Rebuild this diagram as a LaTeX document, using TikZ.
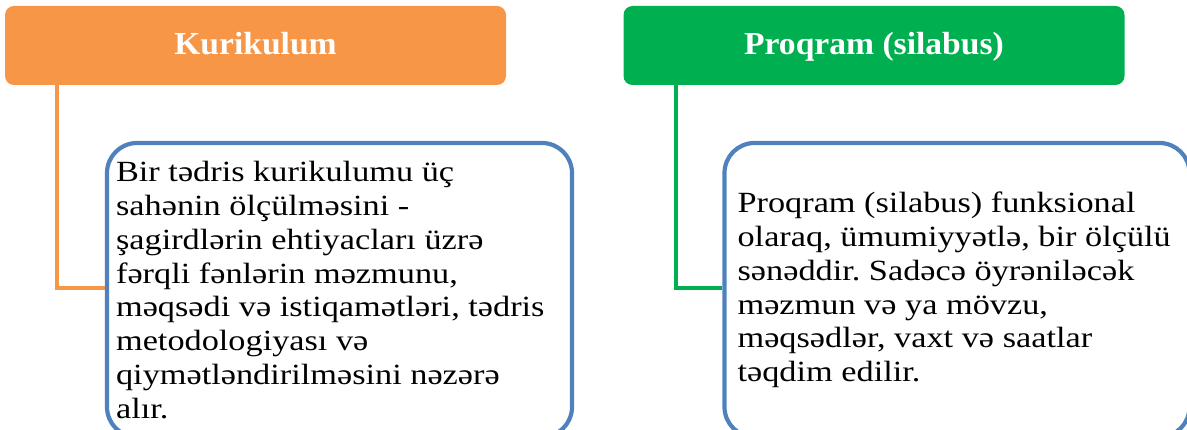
\documentclass[tikz,border=0pt]{standalone}
\usepackage{fontspec}
\setmainfont{Liberation Serif}
\newfontfamily\bodyfont[FakeStretch=1.17]{Liberation Serif}
\newfontfamily\headfont[FakeStretch=1.05]{Liberation Serif}
\definecolor{korange}{HTML}{F79646}
\definecolor{kgreen}{HTML}{00B050}
\definecolor{kblue}{HTML}{4F81BD}
\frenchspacing
\tikzset{
  headbox/.style={rounded corners=9pt, inner sep=0pt, minimum width=501pt, minimum height=79pt,
    text=white, font=\headfont\bfseries\fontsize{32}{36}\selectfont, text height=25pt, text depth=6pt},
  bluebox/.style={draw=kblue, line width=4.2pt, rounded corners=30pt, minimum width=465pt, minimum height=294pt, inner sep=0pt},
  bodytext/.style={align=left, inner sep=0pt, font=\bodyfont\fontsize{29.3}{33.8}\selectfont},
  link/.style={line width=4.2pt}
}
\begin{document}
\begin{tikzpicture}[x=1pt,y=-1pt]
\useasboundingbox (0,0) rectangle (1187,430);
\clip (0,0) rectangle (1187,430);
\node[headbox, fill=korange] (kur) at (255.5,45.5) {Kurikulum};
\node[headbox, fill=kgreen] (pro) at (874,45.5) {Proqram (silabus)};
\node[bluebox] (b1) at (339.5,290) {};
\node[bluebox] (b2) at (957,290) {};
\node[bodytext, anchor=west] (t1) at ([xshift=11pt]b1.west) {Bir tədris kurikulumu üç\\sahənin ölçülməsini -\\şagirdlərin ehtiyacları üzrə\\fərqli fənlərin məzmunu,\\məqsədi və istiqamətləri, tədris\\metodologiyası və\\qiymətləndirilməsini nəzərə\\alır.};
\node[bodytext, anchor=west] (t2) at ([xshift=15pt]b2.west) {Proqram (silabus) funksional\\olaraq, ümumiyyətlə, bir ölçülü\\sənəddir. Sadəcə öyrəniləcək\\məzmun və ya mövzu,\\məqsədlər, vaxt və saatlar\\təqdim edilir.};
\draw[link, draw=korange] ([xshift=52pt]kur.south west) |- ([yshift=2pt]b1.west);
\draw[link, draw=kgreen] ([xshift=53pt]pro.south west) |- ([yshift=2pt]b2.west);
\end{tikzpicture}
\end{document}
